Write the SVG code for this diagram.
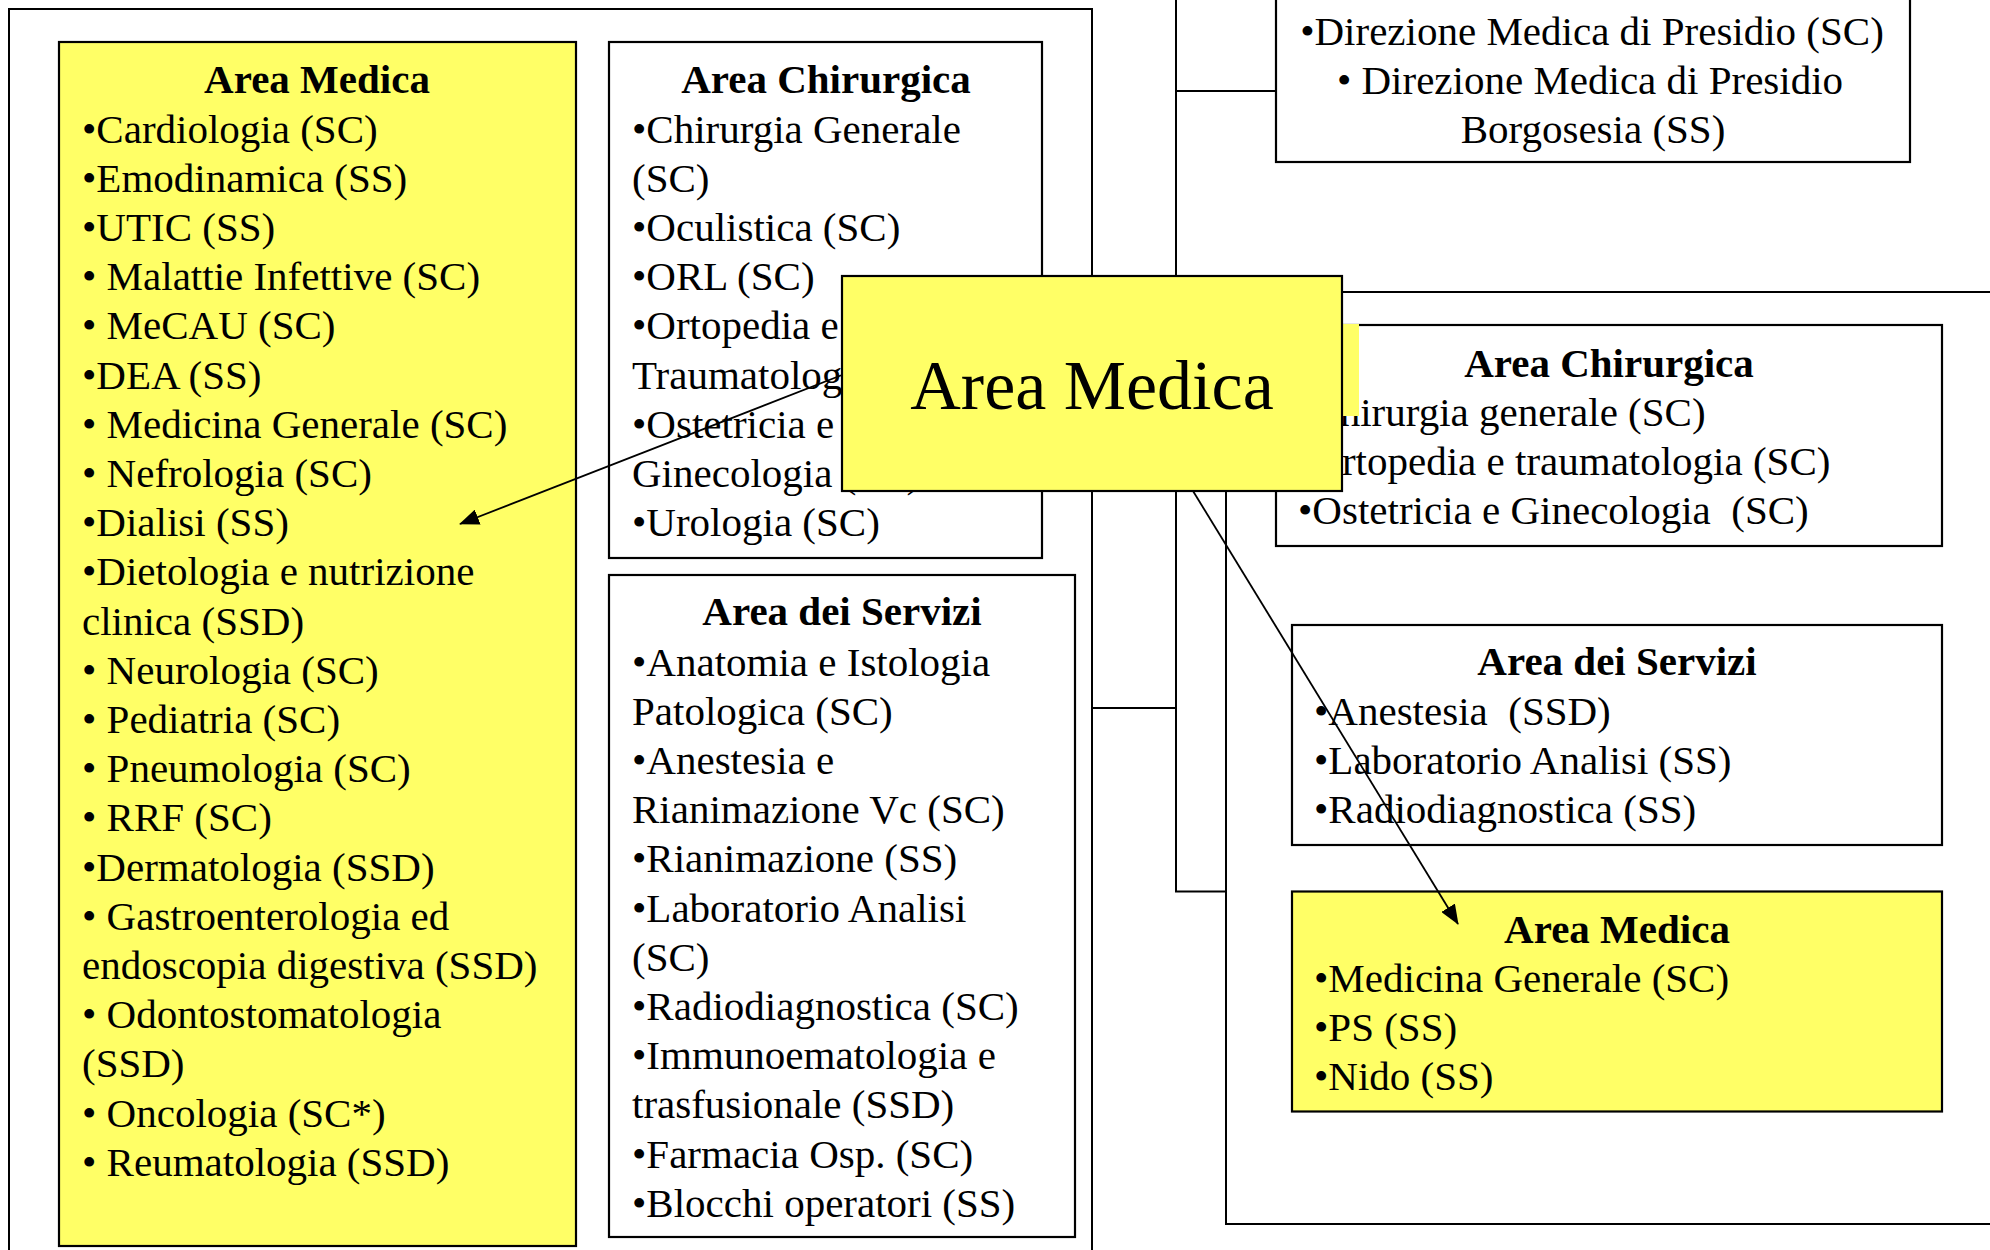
<svg xmlns="http://www.w3.org/2000/svg" width="1990" height="1250" viewBox="0 0 1990 1250">
<defs>
<style>
.frame{fill:none;stroke:#000;stroke-width:2}
.box{fill:#fff;stroke:#000;stroke-width:2.2}
.yel{fill:#ffff66;stroke:#000;stroke-width:2.2}
.ln{fill:none;stroke:#000;stroke-width:2}
.arr{fill:none;stroke:#000;stroke-width:1.8}
text{font-family:"Liberation Serif","Times New Roman",serif;font-size:41px;fill:#000;white-space:pre}
.h{font-weight:bold;text-anchor:middle}
.c{text-anchor:middle}
.big{font-size:70px;text-anchor:middle}
</style>
<marker id="ah" markerUnits="userSpaceOnUse" markerWidth="20" markerHeight="16" refX="19" refY="8" orient="auto">
<path d="M0,0 L20,8 L0,16 z" fill="#000"/>
</marker>
</defs>
<rect width="1990" height="1250" fill="#fff"/>

<g id="frames">
<rect class="frame" x="9" y="9" width="1083" height="1270"/>
<rect class="frame" x="1226" y="292" width="800" height="932"/>
</g>

<g id="area-medica-sx">
<rect class="yel" x="59" y="42" width="517" height="1204"/>
<text class="h" x="317" y="93">Area Medica</text>
<text x="82" y="142.5">•Cardiologia (SC)</text>
<text x="82" y="191.7">•Emodinamica (SS)</text>
<text x="82" y="240.9">•UTIC (SS)</text>
<text x="82" y="290.1">• Malattie Infettive (SC)</text>
<text x="82" y="339.3">• MeCAU (SC)</text>
<text x="82" y="388.5">•DEA (SS)</text>
<text x="82" y="437.7">• Medicina Generale (SC)</text>
<text x="82" y="486.9">• Nefrologia (SC)</text>
<text x="82" y="536.1">•Dialisi (SS)</text>
<text x="82" y="585.3">•Dietologia e nutrizione</text>
<text x="82" y="634.5">clinica (SSD)</text>
<text x="82" y="683.7">• Neurologia (SC)</text>
<text x="82" y="732.9">• Pediatria (SC)</text>
<text x="82" y="782.1">• Pneumologia (SC)</text>
<text x="82" y="831.3">• RRF (SC)</text>
<text x="82" y="880.5">•Dermatologia (SSD)</text>
<text x="82" y="929.7">• Gastroenterologia ed</text>
<text x="82" y="978.9">endoscopia digestiva (SSD)</text>
<text x="82" y="1028.1">• Odontostomatologia</text>
<text x="82" y="1077.3">(SSD)</text>
<text x="82" y="1126.5">• Oncologia (SC*)</text>
<text x="82" y="1175.7">• Reumatologia (SSD)</text>
</g>

<g id="area-chirurgica-sx">
<rect class="box" x="609" y="42" width="433" height="516"/>
<text class="h" x="826" y="93">Area Chirurgica</text>
<text x="632" y="142.5">•Chirurgia Generale</text>
<text x="632" y="191.7">(SC)</text>
<text x="632" y="240.9">•Oculistica (SC)</text>
<text x="632" y="290.1">•ORL (SC)</text>
<text x="632" y="339.3">•Ortopedia e</text>
<text x="632" y="388.5">Traumatologia</text>
<text x="632" y="437.7">•Ostetricia e</text>
<text x="632" y="486.9">Ginecologia (SC)</text>
<text x="632" y="536.1">•Urologia (SC)</text>
</g>

<g id="area-servizi-sx">
<rect class="box" x="609" y="575" width="466" height="662"/>
<text class="h" x="842" y="625">Area dei Servizi</text>
<text x="632" y="675.5">•Anatomia e Istologia</text>
<text x="632" y="724.7">Patologica (SC)</text>
<text x="632" y="773.9">•Anestesia e</text>
<text x="632" y="823.1">Rianimazione Vc (SC)</text>
<text x="632" y="872.3">•Rianimazione (SS)</text>
<text x="632" y="921.5">•Laboratorio Analisi</text>
<text x="632" y="970.7">(SC)</text>
<text x="632" y="1019.9">•Radiodiagnostica (SC)</text>
<text x="632" y="1069.1">•Immunoematologia e</text>
<text x="632" y="1118.3">trasfusionale (SSD)</text>
<text x="632" y="1167.5">•Farmacia Osp. (SC)</text>
<text x="632" y="1216.7">•Blocchi operatori (SS)</text>
</g>

<g id="direzione">
<rect class="box" x="1276" y="-10" width="634" height="172"/>
<text class="c" x="1592" y="44.5">•Direzione Medica di Presidio (SC)</text>
<text class="c" x="1590" y="93.5">• Direzione Medica di Presidio</text>
<text class="c" x="1593" y="142.5">Borgosesia (SS)</text>
</g>

<g id="area-chirurgica-dx">
<rect class="box" x="1276" y="325" width="666" height="221"/>
<text class="h" x="1609" y="377">Area Chirurgica</text>
<text x="1298" y="426">•Chirurgia generale (SC)</text>
<text x="1298" y="475">•Ortopedia e traumatologia (SC)</text>
<text x="1298" y="524">•Ostetricia e Ginecologia  (SC)</text>
<rect x="1343" y="324" width="16" height="92" fill="#ffff66"/>
</g>

<g id="area-servizi-dx">
<rect class="box" x="1292" y="625" width="650" height="220"/>
<text class="h" x="1617" y="675">Area dei Servizi</text>
<text x="1314" y="724.5">•Anestesia  (SSD)</text>
<text x="1314" y="773.5">•Laboratorio Analisi (SS)</text>
<text x="1314" y="822.5">•Radiodiagnostica (SS)</text>
</g>

<g id="area-medica-dx">
<rect class="yel" x="1292" y="891.5" width="650" height="220"/>
<text class="h" x="1617" y="942.5">Area Medica</text>
<text x="1314" y="991.5">•Medicina Generale (SC)</text>
<text x="1314" y="1041">•PS (SS)</text>
<text x="1314" y="1090">•Nido (SS)</text>
</g>

<g id="connectors">
<path class="ln" d="M1176,-5 V891.5 H1226"/>
<path class="ln" d="M1092,708 H1176"/>
<path class="ln" d="M1176,91 H1276"/>
<path class="arr" d="M842,375 L460,524" marker-end="url(#ah)"/>
<path class="arr" d="M1193,491 L1458,924" marker-end="url(#ah)"/>
</g>

<g id="area-medica-centrale">
<rect class="yel" x="842" y="276" width="500" height="215"/>
<text class="big" x="1092" y="408.5">Area Medica</text>
</g>
</svg>
